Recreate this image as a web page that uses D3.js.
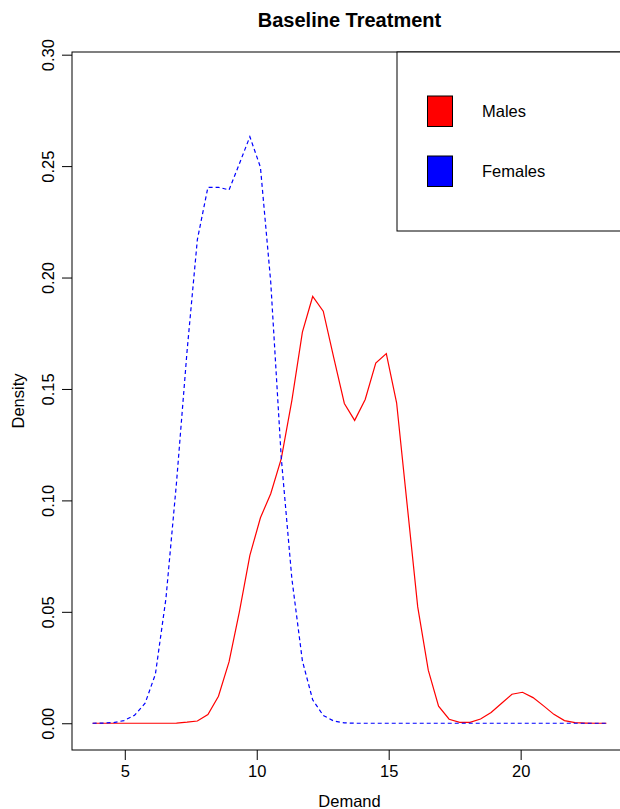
<!DOCTYPE html>
<meta charset="utf-8">
<style>
body { margin: 0; background: #fff; }
svg { font-family: "Liberation Sans", Arial, Helvetica, sans-serif; }
.tick text { font-size: 16.5px; fill: #000; }
</style>
<svg width="620" height="809"></svg>
<script src="https://d3js.org/d3.v7.min.js"></script>
<script>

// density grid (Demand) and the two estimated curves
var demand = [3.78, 4.18, 4.57, 4.97, 5.37, 5.77, 6.16, 6.56, 6.96, 7.36,
              7.75, 8.15, 8.55, 8.95, 9.34, 9.74, 10.14, 10.53, 10.93, 11.33,
              11.73, 12.12, 12.52, 12.92, 13.32, 13.71, 14.11, 14.51, 14.91, 15.30,
              15.70, 16.10, 16.50, 16.89, 17.29, 17.69, 18.08, 18.48, 18.88, 19.28,
              19.67, 20.07, 20.47, 20.87, 21.26, 21.66, 22.06, 22.46, 22.85, 23.25];

var males = [0, 0, 0, 0, 0, 0, 0, 0, 0.0001, 0.0005,
             0.001, 0.0039, 0.0121, 0.0275, 0.0499, 0.0753, 0.0922, 0.103, 0.1187, 0.1448,
             0.1755, 0.1915, 0.1849, 0.164, 0.1435, 0.1359, 0.1453, 0.1616, 0.1659, 0.1438,
             0.098, 0.0522, 0.0238, 0.0077, 0.0018, 0.0004, 0.0004, 0.0019, 0.0048, 0.009,
             0.013, 0.0139, 0.0115, 0.0078, 0.004, 0.0012, 0.0003, 0.0001, 0, 0];

var females = [0, 0.0001, 0.0003, 0.0012, 0.0036, 0.009, 0.022, 0.056, 0.108, 0.167,
               0.217, 0.2405, 0.2405, 0.2393, 0.251, 0.2632, 0.2495, 0.198, 0.119, 0.065,
               0.028, 0.0105, 0.0035, 0.001, 0.0002, 0, 0, 0, 0, 0,
               0, 0, 0, 0, 0, 0, 0, 0, 0, 0,
               0, 0, 0, 0, 0, 0, 0, 0, 0, 0];

var seriesNames = ["Males", "Females"];
var seriesColors = ["#ff0000", "#0000ff"];
var xTicks = [5, 10, 15, 20];
var yTicks = [0, 0.05, 0.10, 0.15, 0.20, 0.25, 0.30];

var svg = d3.select("svg"),
    plotLeft = 72, plotTop = 52, plotRight = 627, plotBottom = 750;

var x = d3.scaleLinear().domain([3.0, 24.03]).range([plotLeft, plotRight]);
var y = d3.scaleLinear().domain([-0.012, 0.3012]).range([plotBottom, plotTop]);

svg.append("rect").attr("width", 620).attr("height", 809).attr("fill", "#fff");

// curves
var line = d3.line()
    .x(function(d) { return x(d[0]); })
    .y(function(d) { return y(d[1]); });

svg.append("path")
    .datum(d3.zip(demand, males))
    .attr("d", line)
    .attr("fill", "none")
    .attr("stroke", seriesColors[0])
    .attr("stroke-width", 1.2);

svg.append("path")
    .datum(d3.zip(demand, females))
    .attr("d", line)
    .attr("fill", "none")
    .attr("stroke", seriesColors[1])
    .attr("stroke-width", 1.2)
    .attr("stroke-dasharray", "4,3");

// axes
var xAxis = svg.append("g")
    .attr("transform", "translate(0," + plotBottom + ")")
    .call(d3.axisBottom(x).tickValues(xTicks).tickSize(10).tickPadding(5.3).tickFormat(d3.format("d")));

var yAxis = svg.append("g")
    .attr("transform", "translate(" + plotLeft + ",0)")
    .call(d3.axisLeft(y).tickValues(yTicks).tickSize(10).tickFormat(d3.format(".2f")));

svg.selectAll(".domain").remove();
svg.selectAll(".tick line").attr("stroke", "#000");

yAxis.selectAll(".tick text")
    .attr("transform", "rotate(-90)")
    .attr("text-anchor", "middle")
    .attr("x", 0)
    .attr("y", -18)
    .attr("dy", 0);

// plot box
svg.append("rect")
    .attr("x", plotLeft).attr("y", plotTop)
    .attr("width", plotRight - plotLeft).attr("height", plotBottom - plotTop)
    .attr("fill", "none").attr("stroke", "#000").attr("stroke-width", 1);

// titles
svg.append("text").attr("x", (plotLeft + plotRight) / 2).attr("y", 27)
    .attr("text-anchor", "middle").style("font-size", "20px").style("font-weight", "bold")
    .text("Baseline Treatment");

svg.append("text").attr("x", (plotLeft + plotRight) / 2).attr("y", 807)
    .attr("text-anchor", "middle").style("font-size", "16.5px")
    .text("Demand");

svg.append("text").attr("transform", "translate(24," + (plotTop + plotBottom) / 2 + ") rotate(-90)")
    .attr("text-anchor", "middle").style("font-size", "16.5px")
    .text("Density");

// legend
var legend = svg.append("g");
legend.append("rect")
    .attr("x", 397).attr("y", plotTop).attr("width", plotRight - 397).attr("height", 179)
    .attr("fill", "#fff").attr("stroke", "#000").attr("stroke-width", 1);

var item = legend.selectAll(".item")
    .data(seriesNames)
    .enter().append("g")
      .attr("class", "item")
      .attr("transform", function(d, i) { return "translate(0," + (i * 60) + ")"; });

item.append("rect")
    .attr("x", 427.5).attr("y", 96).attr("width", 25).attr("height", 30.5)
    .attr("fill", function(d, i) { return seriesColors[i]; })
    .attr("stroke", "#000").attr("stroke-width", 1);

item.append("text")
    .attr("x", 482).attr("y", 111.5).attr("dy", "0.35em")
    .style("font-size", "16.5px")
    .text(function(d) { return d; });

</script>
